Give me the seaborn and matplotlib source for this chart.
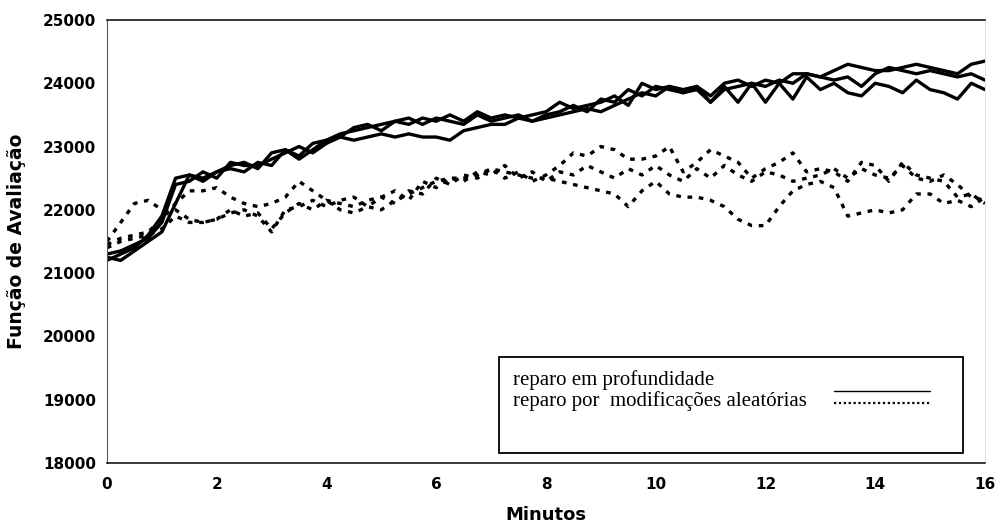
import numpy as np
import pandas as pd
import matplotlib
matplotlib.use("Agg")
import matplotlib.pyplot as plt
import seaborn as sns
from matplotlib.patches import Rectangle
from matplotlib.lines import Line2D

# ---- data, time in minutes, step 0.25 ----
minutos = [i * 0.25 for i in range(65)]

profundidade_1 = [21250, 21200, 21350, 21500, 21650, 22100, 22550, 22450, 22600, 22700, 22750, 22650, 22900,
                  22950, 22850, 23050, 23100, 23200, 23250, 23300, 23350, 23400, 23350, 23450, 23400, 23500,
                  23400, 23550, 23450, 23500, 23450, 23500, 23550, 23700, 23600, 23650, 23700, 23800, 23650,
                  24000, 23900, 23950, 23900, 23950, 23800, 24000, 24050, 23950, 24050, 24000, 24150, 24150,
                  24100, 24200, 24300, 24250, 24200, 24200, 24250, 24300, 24250, 24200, 24150, 24300, 24350]
profundidade_2 = [21300, 21350, 21450, 21550, 21800, 22400, 22450, 22600, 22500, 22750, 22700, 22700, 22800,
                  22900, 23000, 22900, 23050, 23150, 23300, 23350, 23250, 23400, 23450, 23350, 23450, 23400,
                  23350, 23500, 23400, 23450, 23500, 23400, 23500, 23550, 23650, 23550, 23750, 23700, 23900,
                  23800, 23950, 23900, 23850, 23950, 23700, 23900, 23950, 24000, 23950, 24050, 24000, 24150,
                  24100, 24050, 24100, 23950, 24150, 24250, 24200, 24150, 24200, 24150, 24100, 24150, 24050]
profundidade_3 = [21200, 21300, 21400, 21600, 21900, 22500, 22550, 22500, 22600, 22650, 22600, 22750, 22700,
                  22950, 22800, 22950, 23100, 23150, 23100, 23150, 23200, 23150, 23200, 23150, 23150, 23100,
                  23250, 23300, 23350, 23350, 23450, 23400, 23450, 23500, 23550, 23600, 23550, 23650, 23750,
                  23850, 23800, 23950, 23850, 23900, 23700, 23950, 23700, 24000, 23700, 24000, 23750, 24100,
                  23900, 24000, 23850, 23800, 24000, 23950, 23850, 24050, 23900, 23850, 23750, 24000, 23900]

aleatorias_1 = [21500, 21800, 22100, 22150, 22000, 22000, 21850, 21800, 21850, 22000, 21900, 21950, 21700,
                21950, 22100, 22000, 22150, 22100, 22050, 22150, 22200, 22100, 22300, 22250, 22500, 22400,
                22550, 22500, 22650, 22500, 22600, 22450, 22550, 22700, 22900, 22850, 23000, 22950, 22800,
                22800, 22850, 23000, 22600, 22750, 22950, 22850, 22750, 22500, 22650, 22750, 22900, 22600,
                22650, 22600, 22450, 22750, 22700, 22450, 22750, 22550, 22500, 22450, 22200, 22250, 22100]
aleatorias_2 = [21450, 21550, 21600, 21650, 21850, 22100, 22300, 22300, 22350, 22200, 22100, 22050, 22100,
                22200, 22450, 22300, 22150, 22000, 21950, 22050, 22000, 22150, 22250, 22350, 22450, 22500,
                22500, 22550, 22650, 22600, 22550, 22500, 22500, 22450, 22400, 22350, 22300, 22250, 22050,
                22300, 22450, 22250, 22200, 22200, 22150, 22050, 21850, 21750, 21750, 22050, 22300, 22400,
                22450, 22350, 21900, 21950, 22000, 21950, 22000, 22250, 22250, 22100, 22150, 22050, 22200]
aleatorias_3 = [21400, 21500, 21550, 21600, 21700, 21900, 21800, 21800, 21850, 21950, 22000, 21900, 21650,
                22000, 22050, 22150, 22050, 22150, 22200, 22050, 22200, 22300, 22150, 22450, 22350, 22500,
                22450, 22600, 22550, 22700, 22500, 22600, 22450, 22600, 22550, 22700, 22600, 22500, 22650,
                22550, 22700, 22550, 22450, 22650, 22500, 22700, 22550, 22450, 22600, 22550, 22450, 22500,
                22550, 22650, 22500, 22650, 22550, 22500, 22700, 22500, 22450, 22550, 22400, 22200, 22150]

x_ticks = [0, 2, 4, 6, 8, 10, 12, 14, 16]
y_ticks = [18000, 19000, 20000, 21000, 22000, 23000, 24000, 25000]

legend_labels = ["reparo em profundidade", "reparo por  modificações aleatórias"]

# ---- build long-form table ----
rows = []
for name, vals, kind in [("p1", profundidade_1, "solid"), ("p2", profundidade_2, "solid"),
                         ("p3", profundidade_3, "solid"), ("a1", aleatorias_1, "dotted"),
                         ("a2", aleatorias_2, "dotted"), ("a3", aleatorias_3, "dotted")]:
    for xv, yv in zip(minutos, vals):
        rows.append({"Minutos": xv, "valor": yv, "run": name, "tipo": kind})
df = pd.DataFrame(rows)

sns.set_theme(style="white")
plt.rcParams["font.family"] = ["DejaVu Sans"]
plt.rcParams["text.color"] = "black"
plt.rcParams["axes.labelcolor"] = "black"
plt.rcParams["xtick.color"] = "black"
plt.rcParams["ytick.color"] = "black"

fig = plt.figure(figsize=(9.96, 5.26), dpi=100)
ax = fig.add_axes([0.1074, 0.120, 0.8815, 0.842])

for run, sub in df.groupby("run", sort=False):
    kind = sub["tipo"].iloc[0]
    if kind == "solid":
        sns.lineplot(data=sub, x="Minutos", y="valor", ax=ax, color="black", linewidth=2.4,
                     estimator=None, legend=False)
    else:
        sns.lineplot(data=sub, x="Minutos", y="valor", ax=ax, color="black", linewidth=2.4,
                     linestyle=(0, (1.4, 2.0)), estimator=None, legend=False)

ax.set_xlim(0, 16)
ax.set_ylim(18000, 25000)
ax.set_xticks(x_ticks)
ax.set_yticks(y_ticks)
ax.set_xticklabels([str(t) for t in x_ticks], fontweight="bold", fontsize=11)
ax.set_yticklabels([str(t) for t in y_ticks], fontweight="bold", fontsize=11)
ax.tick_params(axis="both", direction="inout", length=4, width=0.8, color="black",
               labelcolor="black", pad=6)
ax.tick_params(axis="x", pad=8)
ax.set_xlabel("Minutos", fontweight="bold", fontsize=13, labelpad=10, color="black")
ax.set_ylabel("Função de Avaliação", fontweight="bold", fontsize=13.5, labelpad=12, color="black")

for side in ["top", "bottom"]:
    ax.spines[side].set_visible(True)
    ax.spines[side].set_color("black")
    ax.spines[side].set_linewidth(1.1)
ax.spines["left"].set_color("#555555")
ax.spines["left"].set_linewidth(0.8)
ax.spines["right"].set_color("#dddddd")
ax.spines["right"].set_linewidth(0.6)
ax.grid(False)

# ---- legend box (drawn manually to match the boxed layout) ----
ax.add_patch(Rectangle((0.447, 0.0226), 0.528, 0.2165, transform=ax.transAxes,
                       facecolor="white", edgecolor="black", linewidth=1.3, zorder=5))
serif = ["Liberation Serif", "DejaVu Serif"]
ax.text(0.462, 0.176, legend_labels[0], transform=ax.transAxes, fontsize=15,
        family=serif, va="baseline", zorder=6)
ax.text(0.462, 0.128, legend_labels[1], transform=ax.transAxes, fontsize=15,
        family=serif, va="baseline", zorder=6)
ax.add_line(Line2D([0.828, 0.937], [0.163, 0.163], transform=ax.transAxes, color="black",
                   linewidth=1.0, zorder=6))
ax.add_line(Line2D([0.828, 0.937], [0.135, 0.135], transform=ax.transAxes, color="black",
                   linewidth=1.6, linestyle=(0, (1.0, 1.2)), zorder=6))

fig.savefig("out.png", dpi=100)
